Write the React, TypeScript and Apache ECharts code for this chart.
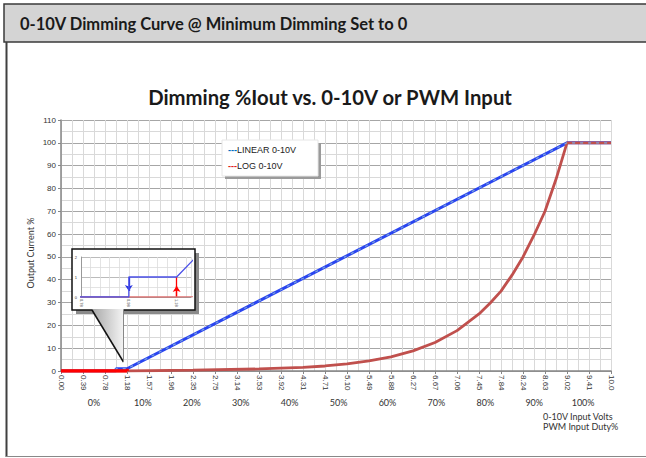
import React, { useEffect, useRef } from "react";
import * as echarts from "echarts";

// PWM step (0..255 scale) on x; output current % on y
const voltLabels = ["0.00","0.39","0.78","1.18","1.57","1.96","2.35","2.75","3.14","3.53","3.92","4.31","4.71","5.10","5.49","5.88","6.27","6.67","7.06","7.45","7.84","8.24","8.63","9.02","9.41","10.0"];
const dutyTicks = [0, 10, 20, 30, 40, 50, 60, 70, 80, 90, 100];

const linearData = [[0, 0], [25, 0], [25, 1], [30, 1], [230, 100], [250, 100]];
const logData = [
  [0, 0], [30, 0], [60, 0.4], [90, 0.9], [110, 1.6], [120, 2.2], [130, 3.1],
  [140, 4.4], [150, 6.2], [160, 8.8], [170, 12.5], [180, 17.7], [190, 25], [195, 29.7],
  [200, 35], [205, 42], [210, 50], [215, 59.5], [220, 70], [225, 84], [230, 100], [250, 100],
];
const offSegment = [[0, 0], [30, 0]];
const logStep = [[30, 0], [30, 1]];
const linearArrow = [[25, 1], [25, 0.3]];
const logArrow = [[30, 0], [30, 0.55]];

const SANS = "Liberation Sans, Arial, sans-serif";
const CAL = "Lato, Liberation Sans, sans-serif";

export default function App() {
  const ref = useRef<HTMLDivElement>(null);
  useEffect(() => {
    if (!ref.current) return;
    const chart = echarts.init(ref.current, null, { renderer: "svg" });
    const option: any = {
      animation: false,
      backgroundColor: "#ffffff",
      grid: [
        { left: 61, right: 35, top: 120, bottom: 87 },
        { left: 81, top: 257, width: 110, height: 40, z: 5 },
      ],
      xAxis: [
        {
          gridIndex: 0, type: "value", min: 0, max: 250, interval: 10,
          axisLine: { lineStyle: { color: "#868686", width: 1.5 } },
          axisTick: { show: true, length: 3, lineStyle: { color: "#868686" } },
          axisLabel: {
            rotate: -90, fontSize: 8, color: "#333", fontFamily: SANS, margin: 4,
            formatter: (v: number) => voltLabels[Math.round(v / 10)] ?? "",
          },
          splitLine: { show: true, lineStyle: { color: "#d9d9d9", width: 1 } },
          minorTick: { show: false, splitNumber: 2 },
          minorSplitLine: { show: true, lineStyle: { color: "#d9d9d9", width: 1 } },
        },
        {
          gridIndex: 0, type: "value", position: "bottom", offset: 24,
          min: -6.75, max: 105.7,
          axisLine: { show: false }, axisTick: { show: false }, splitLine: { show: false },
          axisLabel: {
            customValues: dutyTicks, fontSize: 9, color: "#333", fontFamily: CAL, margin: 3,
            formatter: (v: number) => `${v}%`,
          },
        },
        {
          gridIndex: 1, type: "value", min: 20, max: 31.5, interval: 1, z: 5,
          axisLine: { lineStyle: { color: "#999", width: 1 } },
          axisTick: { show: false },
          axisLabel: {
            customValues: [20, 25, 30], rotate: -90, fontSize: 4, color: "#333", margin: 2,
            formatter: (v: number) => ((v * 10) / 255).toFixed(2),
          },
          splitLine: { show: true, lineStyle: { color: "#dcdcdc", width: 0.8 } },
        },
      ],
      yAxis: [
        {
          gridIndex: 0, type: "value", min: 0, max: 110, interval: 10,
          axisLine: { show: true, lineStyle: { color: "#868686", width: 1.5 } },
          axisTick: { show: true, length: 3, lineStyle: { color: "#868686" } },
          axisLabel: { fontSize: 8, color: "#333", fontFamily: SANS, margin: 5 },
          splitLine: { show: true, lineStyle: { color: "#a6a6a6", width: 1 } },
          minorTick: { show: false, splitNumber: 2 },
          minorSplitLine: { show: true, lineStyle: { color: "#d9d9d9", width: 1 } },
        },
        {
          gridIndex: 1, type: "value", min: 0, max: 2, interval: 1, z: 5,
          axisLine: { show: true, lineStyle: { color: "#999", width: 1 } },
          axisTick: { show: false },
          axisLabel: { fontSize: 4, color: "#333", margin: 4 },
          splitLine: { show: true, lineStyle: { color: "#aaa", width: 0.8 } },
          minorTick: { show: false, splitNumber: 2 },
          minorSplitLine: { show: true, lineStyle: { color: "#dcdcdc", width: 0.8 } },
        },
      ],
      series: [
        {
          name: "LINEAR 0-10V", type: "line", xAxisIndex: 0, yAxisIndex: 0, data: linearData,
          symbol: "none", z: 2, lineStyle: { color: "#2a45f0", width: 3 },
        },
        {
          name: "LINEAR dash", type: "line", xAxisIndex: 0, yAxisIndex: 0, data: linearData,
          symbol: "none", z: 3, lineStyle: { color: "#7ba3d9", width: 1.2, type: [3, 5] },
        },
        {
          name: "LOG 0-10V", type: "line", xAxisIndex: 0, yAxisIndex: 0, data: logData,
          symbol: "none", z: 2, lineStyle: { color: "#c0504d", width: 2.8 },
        },
        {
          name: "OFF", type: "line", xAxisIndex: 0, yAxisIndex: 0, data: offSegment,
          symbol: "none", z: 4, lineStyle: { color: "#ff0000", width: 3.5 },
          markLine: {
            silent: true, symbol: ["none", "none"], label: { show: false },
            lineStyle: { color: "#ff0000", width: 2.5, type: "solid" },
            data: [[{ coord: logStep[0] }, { coord: logStep[1] }]],
          },
        },
        {
          name: "inset linear", type: "line", xAxisIndex: 2, yAxisIndex: 1, data: linearData,
          symbol: "none", z: 7, clip: true, lineStyle: { color: "#4b50e8", width: 1.3 },
          markLine: {
            silent: true, symbol: ["none", "arrow"], symbolSize: 6, label: { show: false },
            lineStyle: { color: "#2a35e0", width: 1.3, type: "solid" },
            data: [[{ coord: linearArrow[0] }, { coord: linearArrow[1] }]],
          },
        },
        {
          name: "inset log", type: "line", xAxisIndex: 2, yAxisIndex: 1, data: logData,
          symbol: "none", z: 6, clip: true, lineStyle: { color: "#e07070", width: 1.3 },
          markLine: {
            silent: true, symbol: ["none", "arrow"], symbolSize: 6, label: { show: false },
            lineStyle: { color: "#ff0000", width: 1.3, type: "solid" },
            data: [
              [{ coord: logStep[0] }, { coord: logStep[1], symbol: "none" }],
              [{ coord: logArrow[0] }, { coord: logArrow[1] }],
            ],
          },
        },
      ],
      graphic: [
        { type: "rect", z: 10, shape: { x: 4, y: 4, width: 650, height: 38 },
          style: { fill: "#d4d4d4", stroke: "#3a3a3a", lineWidth: 1.5 } },
        { type: "text", z: 11, x: 20, y: 24,
          style: { text: "0-10V Dimming Curve @ Minimum Dimming Set to 0", font: `bold 16.5px ${CAL}`,
            fill: "#1a1a1a", textVerticalAlign: "middle" } },
        { type: "line", z: 10, shape: { x1: 6.5, y1: 42, x2: 6.5, y2: 457 },
          style: { stroke: "#404040", lineWidth: 2 } },
        { type: "line", z: 10, shape: { x1: 6, y1: 456.5, x2: 646, y2: 456.5 },
          style: { stroke: "#888", lineWidth: 1 } },
        { type: "text", z: 11, x: 330, y: 97,
          style: { text: "Dimming %Iout vs. 0-10V or PWM Input", font: `bold 20.3px ${CAL}`,
            fill: "#1a1a1a", textAlign: "center", textVerticalAlign: "middle" } },
        { type: "text", z: 11, x: 30, y: 253, rotation: Math.PI / 2,
          style: { text: "Output Current %", font: `9px ${CAL}`, fill: "#333",
            textAlign: "center", textVerticalAlign: "middle" } },
        { type: "text", z: 11, x: 543, y: 416.5,
          style: { text: "0-10V Input Volts", font: `9px ${CAL}`, fill: "#333", textVerticalAlign: "middle" } },
        { type: "text", z: 11, x: 543, y: 426,
          style: { text: "PWM Input Duty%", font: `9px ${CAL}`, fill: "#333", textVerticalAlign: "middle" } },
        // legend
        { type: "rect", z: 3, shape: { x: 225, y: 143, width: 96, height: 36 }, style: { fill: "#9a9a9a" } },
        { type: "rect", z: 3, shape: { x: 222, y: 140, width: 96, height: 36 },
          style: { fill: "#ffffff", stroke: "#e6e6e6", lineWidth: 1 } },
        { type: "text", z: 4, x: 228, y: 150,
          style: { text: "{b|---}LINEAR 0-10V", font: `9px ${SANS}`, fill: "#222", textVerticalAlign: "middle",
            rich: { b: { fill: "#0070c0", fontWeight: "bold", fontSize: 9 } } } },
        { type: "text", z: 4, x: 228, y: 166,
          style: { text: "{r|---}LOG 0-10V", font: `9px ${SANS}`, fill: "#222", textVerticalAlign: "middle",
            rich: { r: { fill: "#e02020", fontWeight: "bold", fontSize: 9 } } } },
        // inset callout
        { type: "rect", z: 3, shape: { x: 76, y: 253, width: 123, height: 61 }, style: { fill: "#8a8a8a" } },
        { type: "rect", z: 3, shape: { x: 72, y: 249, width: 123, height: 61 },
          style: { fill: "#ffffff", stroke: "#111", lineWidth: 1.5 } },
        { type: "polygon", z: 4, shape: { points: [[92, 309], [123.5, 309], [123.5, 362]] },
          style: { fill: new echarts.graphic.LinearGradient(0, 0, 1, 0, [
            { offset: 0, color: "#a8a8a8" }, { offset: 1, color: "#f4f4f4" }]) } },
        { type: "line", z: 4, shape: { x1: 92, y1: 310, x2: 123.5, y2: 362 },
          style: { stroke: "#111", lineWidth: 1.5 } },
        { type: "line", z: 4, shape: { x1: 123.5, y1: 310, x2: 123.5, y2: 362 },
          style: { stroke: "#888", lineWidth: 1 } },
      ],
    };
    chart.setOption(option);
    return () => chart.dispose();
  }, []);
  return (
    <div ref={ref} style={{ position: "absolute", left: 0, top: 0, width: 646, height: 458 }} />
  );
}
